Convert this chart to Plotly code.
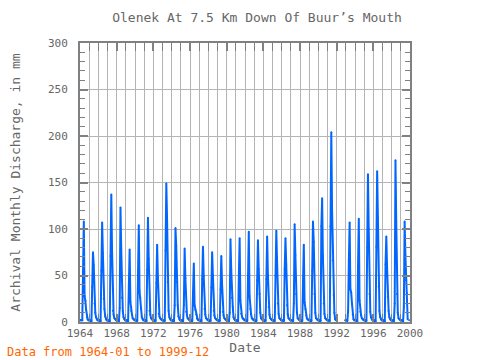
import plotly.graph_objects as go
import pandas as pd

title_text = "Olenek At 7.5 Km Down Of Buur\u2019s Mouth"
y_label = "Archival Monthly Discharge, in mm"
x_label = "Date"
note_text = "Data from 1964-01 to 1999-12"

years = list(range(1964, 2000))
N = None
# monthly discharge (mm), Jan..Dec for each year
discharge_by_year = [
    [2, 2, 2, 2, 54, 108, 28, 23, 13, 5, 3, 2],      # 1964
    [2, 2, 1, 1, 38, 75, 61, 20, 10, 5, 3, 2],       # 1965
    [2, 2, 1, 1, 55, 107, 74, 25, 14, 6, 3, 2],      # 1966
    [2, 2, 1, 1, 71, 137, 76, 12, 8, 4, 3, 2],       # 1967
    [2, 2, 1, 1, 15, 123, 78, 26, 12, 5, 3, 2],      # 1968
    [2, 2, 1, 1, 39, 78, 22, 12, 8, 4, 3, 2],        # 1969
    [2, 2, 1, 1, 52, 104, 33, 26, 14, 5, 3, 2],      # 1970
    [2, 2, 1, 1, 56, 112, 68, 12, 8, 4, 3, 2],       # 1971
    [2, 2, 1, 1, 42, 83, 48, 9, 6, 4, 3, 2],         # 1972
    [2, 2, 1, 1, 77, 149, 111, 43, 12, 5, 3, 2],     # 1973
    [2, 2, 1, 1, 18, 101, 82, 43, 18, 6, 3, 2],      # 1974
    [2, 2, 1, 1, 18, 79, 47, 11, 7, 4, 3, 2],        # 1975
    [2, 2, 1, 1, 32, 63, 18, 13, 8, 4, 3, 2],        # 1976
    [2, 2, 1, 1, 46, 81, 49, 14, 8, 4, 3, 2],        # 1977
    [2, 2, 1, 1, 37, 75, 50, 12, 7, 4, 3, 2],        # 1978
    [2, 2, 1, 1, 35, 71, 41, 11, 7, 4, 3, 2],        # 1979
    [2, 2, 1, 1, 10, 89, 56, 26, 16, 5, 3, 2],       # 1980
    [2, 2, 1, 1, 50, 90, 23, 9, 6, 4, 3, 2],         # 1981
    [2, 2, 1, 1, 49, 97, 28, 14, 8, 4, 3, 2],        # 1982
    [2, 2, 1, 1, 45, 88, 57, 30, 10, 4, 3, 2],       # 1983
    [2, 2, 1, 1, 46, 92, 51, 16, 8, 4, 3, 2],        # 1984
    [2, 2, 1, 1, 50, 98, 65, 20, 9, 4, 3, 2],        # 1985
    [2, 2, 1, 1, 57, 90, 62, 18, 8, 4, 3, 2],        # 1986
    [2, 2, 1, 1, 20, 105, 72, 30, 10, 4, 3, 2],      # 1987
    [2, 2, 1, 1, 44, 83, 21, 14, 7, 4, 3, 2],        # 1988
    [2, 2, 1, 1, 55, 108, 86, 30, 10, 4, 3, 2],      # 1989
    [2, 2, 1, 1, 103, 133, 71, 20, 9, 4, 3, 2],      # 1990
    [2, 2, 1, 1, 103, 204, 121, 66, 29, 10, 3, 2],   # 1991
    [2, N, N, N, N, N, N, N, N, N, N, 2],            # 1992
    [2, 2, 1, 12, 66, 107, 35, 32, 20, 8, 3, 2],     # 1993
    [2, 2, 1, 1, 60, 111, 23, 11, 7, 4, 3, 2],       # 1994
    [2, 2, 1, 1, 80, 159, 100, 30, 11, 5, 3, 2],     # 1995
    [2, 2, 1, 1, 81, 162, 112, 38, 12, 5, 3, 2],     # 1996
    [2, 2, 1, 1, 62, 92, 59, 27, 12, 5, 3, 2],       # 1997
    [2, 2, 1, 1, 20, 174, 108, 30, 10, 4, 3, 2],     # 1998
    [2, 2, 1, 1, 16, 108, 72, 45, 31, 3, N, 2],      # 1999
]

dates = []
values = []
for yr, row in zip(years, discharge_by_year):
    for m, v in enumerate(row, start=1):
        dates.append(pd.Timestamp(year=yr, month=m, day=1))
        values.append(v)

axis_gray = "#808080"
grid_gray = "#b4b4b4"
text_gray = "#666666"
font_family = "DejaVu Sans Mono"

fig = go.Figure()
fig.add_trace(go.Scatter(
    x=dates, y=values, mode="lines+markers",
    line=dict(color="#0066ff", width=2),
    marker=dict(color="#0066ff", size=2),
    connectgaps=False, showlegend=False,
))

fig.update_layout(
    width=480, height=360,
    margin=dict(l=80, r=70, t=43, b=38, autoexpand=False),
    plot_bgcolor="white", paper_bgcolor="white",
    font=dict(family=font_family, color=text_gray, size=11),
    title=dict(text=title_text, x=257 / 480, xanchor="center", xref="container",
               y=1 - 17 / 360, yanchor="middle", yref="container",
               font=dict(size=13, color=text_gray, family=font_family)),
)

fig.update_xaxes(
    type="date", range=["1964-01-01", "2000-01-01"], automargin=False,
    tick0="1964-01-01", dtick="M48", tickformat="%Y",
    ticks="inside", ticklen=8, tickwidth=2, tickcolor=axis_gray,
    showline=True, linewidth=2, linecolor=axis_gray, mirror="ticks",
    showgrid=True, gridcolor=grid_gray, gridwidth=1,
    minor=dict(dtick="M12", tick0="1964-01-01", ticks="inside", ticklen=8,
               tickwidth=1, tickcolor=axis_gray, showgrid=True,
               gridcolor=grid_gray, gridwidth=1),
    tickfont=dict(size=11, color=text_gray),
    title=dict(text=x_label, font=dict(size=13, color=text_gray), standoff=2),
    zeroline=False,
)
fig.update_yaxes(
    range=[0, 300], dtick=50, tick0=0, automargin=False,
    ticks="inside", ticklen=8, tickwidth=2, tickcolor=axis_gray,
    showline=True, linewidth=2, linecolor=axis_gray, mirror="ticks",
    showgrid=True, gridcolor=grid_gray, gridwidth=1,
    minor=dict(dtick=10, ticks="inside", ticklen=5, tickwidth=1,
               tickcolor=axis_gray, showgrid=False),
    tickfont=dict(size=11, color=text_gray),
    ticklabelstandoff=8,
    title=dict(text=y_label, font=dict(size=13, color=text_gray), standoff=24),
    zeroline=False,
)

fig.add_annotation(
    text=note_text, xref="paper", yref="paper",
    x=-75 / 330, y=-30 / 279, xanchor="left", yanchor="middle",
    showarrow=False, font=dict(size=12, color="#ff6600", family=font_family),
)

fig.write_html("out.html", config={"displayModeBar": False},
               post_script="document.body.style.margin='0';")
